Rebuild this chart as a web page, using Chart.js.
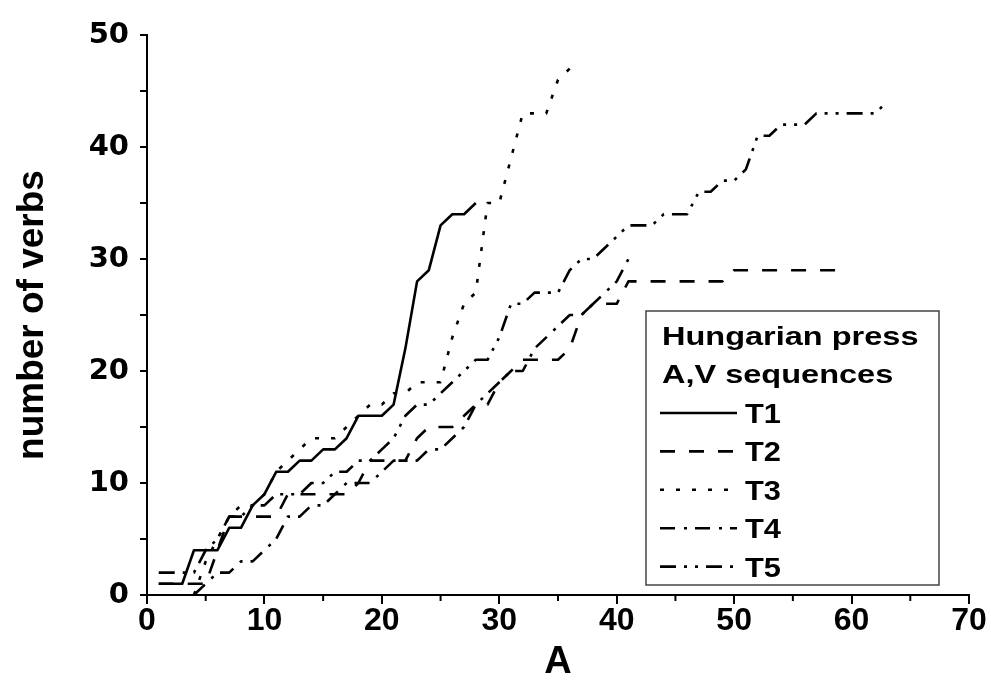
<!DOCTYPE html>
<html>
<head>
<meta charset="utf-8">
<script src="https://cdn.jsdelivr.net/npm/chart.js@4.4.1/dist/chart.umd.min.js"></script>
<style>
  html, body { margin: 0; padding: 0; background: #fff; }
  #wrap { width: 991px; height: 693px; }
</style>
</head>
<body>
<div id="wrap"><canvas id="chart" width="991" height="693"></canvas></div>
<script>
// Cumulative number of verbs (V) against number of adjectives (A)
const seriesNames = ['T1', 'T2', 'T3', 'T4', 'T5'];
const legendTitle = ['Hungarian press', 'A,V sequences'];

const t1A = [1, 2, 3, 4, 5, 6, 7, 8, 9, 10, 11, 12, 13, 14, 15, 16, 17, 18, 19, 20, 21, 22, 23, 24, 25, 26, 27, 28];
const t1V = [1, 1, 1, 4, 4, 4, 6, 6, 8, 9, 11, 11, 12, 12, 13, 13, 14, 16, 16, 16, 17, 22, 28, 29, 33, 34, 34, 35];

const t2A = [1, 2, 3, 4, 5, 6, 7, 8, 9, 10, 11, 12, 13, 14, 15, 16, 17, 18, 19, 20, 21, 22, 23, 24, 25, 26, 27, 28, 29, 30,
             31, 32, 33, 34, 35, 36, 37, 38, 39, 40, 41, 42, 43, 44, 45, 46, 47, 48, 49, 50, 51, 52, 53, 54, 55, 56, 57, 58, 59];
const t2V = [1, 1, 1, 1, 1, 4, 7, 7, 7, 7, 7, 9, 9, 9, 9, 9, 9, 10, 12, 12, 12, 12, 14, 15, 15, 15, 16, 17, 17, 19,
             20, 21, 21, 21, 21, 22, 25, 26, 26, 26, 28, 28, 28, 28, 28, 28, 28, 28, 28, 29, 29, 29, 29, 29, 29, 29, 29, 29, 29];

const t3A = [4, 5, 6, 7, 8, 9, 10, 11, 12, 13, 14, 15, 16, 17, 18, 19, 20, 21, 22, 23, 24, 25, 26, 27, 28, 29, 30, 31, 32, 33, 34, 35, 36];
const t3V = [0, 3, 5, 7, 8, 8, 9, 11, 12, 13, 14, 14, 14, 15, 16, 17, 17, 18, 18, 19, 19, 19, 23, 26, 27, 35, 35, 39, 43, 43, 43, 46, 47];

const t4A = [4, 5, 6, 7, 8, 9, 10, 11, 12, 13, 14, 15, 16, 17, 18, 19, 20, 21, 22, 23, 24, 25, 26, 27, 28, 29, 30, 31, 32, 33,
             34, 35, 36, 37, 38, 39, 40, 41];
const t4V = [0, 1, 2, 2, 3, 3, 4, 5, 7, 7, 8, 8, 9, 10, 10, 10, 11, 12, 12, 12, 13, 13, 14, 15, 17, 18, 19, 20, 20, 22,
             23, 24, 25, 25, 26, 27, 28, 30];

const t5A = [1, 2, 3, 4, 5, 6, 7, 8, 9, 10, 11, 12, 13, 14, 15, 16, 17, 18, 19, 20, 21, 22, 23, 24, 25, 26, 27, 28, 29, 30,
             31, 32, 33, 34, 35, 36, 37, 38, 39, 40, 41, 42, 43, 44, 45, 46, 47, 48, 49, 50, 51, 52, 53, 54, 55, 56, 57, 58, 59, 60,
             61, 62, 63];
const t5V = [2, 2, 2, 2, 4, 5, 7, 7, 8, 8, 9, 9, 9, 10, 10, 11, 11, 12, 12, 13, 14, 16, 17, 17, 18, 19, 20, 21, 21, 23,
             26, 26, 27, 27, 27, 29, 30, 30, 31, 32, 33, 33, 33, 34, 34, 34, 36, 36, 37, 37, 38, 41, 41, 42, 42, 42, 43, 43, 43, 43,
             43, 43, 44];

const xTicks = [0, 10, 20, 30, 40, 50, 60, 70];
const yTicks = [0, 10, 20, 30, 40, 50];

// line styles for T1..T5: solid, dash, dot, dash-dot, dash-dot-dot
const dashes = [[], [15, 14], [4, 12], [15, 9, 3, 8], [16, 8, 3, 8, 3, 8]];

const toPoints = (xs, ys) => xs.map((x, i) => ({ x: x, y: ys[i] }));
const pointSets = [
  toPoints(t1A, t1V), toPoints(t2A, t2V), toPoints(t3A, t3V), toPoints(t4A, t4V), toPoints(t5A, t5V)
];

const datasets = pointSets.map((pts, i) => ({
  label: seriesNames[i],
  data: pts,
  borderColor: '#000',
  borderWidth: 2.6,
  borderDash: dashes[i],
  borderCapStyle: 'butt',
  borderJoinStyle: 'round',
  pointRadius: 0,
  tension: 0,
  fill: false
}));

const FONT = '"Liberation Sans", Arial, sans-serif';
const WIDE_FONT = '"DejaVu Sans", "Liberation Sans", sans-serif';

// draws the short minor ticks on the A axis
const minorTicks = {
  id: 'minorTicks',
  afterDraw(chart) {
    const ctx = chart.ctx;
    const xs = chart.scales.x;
    const y0 = chart.chartArea.bottom;
    ctx.save();
    ctx.strokeStyle = '#000';
    ctx.lineWidth = 2;
    xs.ticks.forEach(t => {
      if (t.value % 10 !== 0) {
        const px = xs.getPixelForValue(t.value);
        ctx.beginPath();
        ctx.moveTo(px, y0);
        ctx.lineTo(px, y0 + 6);
        ctx.stroke();
      }
    });
    ctx.restore();
  }
};

// boxed legend inside the plot
const boxLegend = {
  id: 'boxLegend',
  afterDraw(chart) {
    const ctx = chart.ctx;
    const bx = 646, by = 311, bw = 293, bh = 274;
    ctx.save();
    ctx.fillStyle = '#fff';
    ctx.fillRect(bx, by, bw, bh);
    ctx.strokeStyle = '#444';
    ctx.lineWidth = 1.5;
    ctx.strokeRect(bx, by, bw, bh);

    const drawText = (txt, x, y, size, sx) => {
      ctx.save();
      ctx.translate(x, y);
      ctx.scale(sx, 1);
      ctx.font = 'bold ' + size + 'px ' + FONT;
      ctx.fillStyle = '#000';
      ctx.textBaseline = 'alphabetic';
      ctx.textAlign = 'left';
      ctx.fillText(txt, 0, 0);
      ctx.restore();
    };
    drawText(legendTitle[0], 662, 345, 26, 1.25);
    drawText(legendTitle[1], 662, 383, 26, 1.25);

    chart.data.datasets.forEach((ds, i) => {
      const cy = 413 + i * 38.4;
      ctx.save();
      ctx.strokeStyle = '#000';
      ctx.lineWidth = 2.6;
      ctx.setLineDash(ds.borderDash);
      ctx.beginPath();
      ctx.moveTo(660, cy);
      ctx.lineTo(737, cy);
      ctx.stroke();
      ctx.restore();
      drawText(ds.label, 745, cy + 10, 28, 1.1);
    });
    ctx.restore();
  }
};

new Chart(document.getElementById('chart'), {
  type: 'line',
  data: { datasets: datasets },
  options: {
    responsive: false,
    animation: false,
    devicePixelRatio: 1,
    layout: { padding: { top: 35, right: 22, left: 0, bottom: 0 } },
    plugins: { legend: { display: false }, tooltip: { enabled: false } },
    scales: {
      x: {
        type: 'linear',
        min: xTicks[0],
        max: xTicks[xTicks.length - 1],
        afterFit(scale) { scale.height = 98; },
        ticks: {
          stepSize: 5,
          autoSkip: false,
          maxRotation: 0,
          padding: -2,
          color: '#000',
          font: { family: FONT, size: 32, weight: 'bold' },
          callback: v => (xTicks.includes(v) ? String(v) : '')
        },
        grid: {
          drawOnChartArea: false,
          drawTicks: true,
          tickLength: 9,
          lineWidth: 2,
          color: ctx => (ctx.tick && ctx.tick.value % 10 !== 0 ? 'rgba(0,0,0,0)' : '#000')
        },
        border: { display: true, color: '#000', width: 2 },
        title: {
          display: true,
          text: 'A',
          color: '#000',
          font: { family: FONT, size: 38, weight: 'bold' },
          padding: { top: 0, bottom: 8 }
        }
      },
      y: {
        type: 'linear',
        min: yTicks[0],
        max: yTicks[yTicks.length - 1],
        afterFit(scale) { scale.width = 147; },
        ticks: {
          stepSize: 5,
          autoSkip: false,
          padding: 11,
          color: '#000',
          font: { family: WIDE_FONT, size: 29, weight: 'bold' },
          callback: v => (yTicks.includes(v) ? String(v) : '')
        },
        grid: {
          drawOnChartArea: false,
          drawTicks: true,
          tickLength: 7,
          lineWidth: 2,
          color: '#000'
        },
        border: { display: true, color: '#000', width: 2 },
        title: {
          display: true,
          text: 'number of verbs',
          color: '#000',
          font: { family: FONT, size: 37, weight: 'bold' },
          padding: { top: 11, bottom: 0 }
        }
      }
    }
  },
  plugins: [minorTicks, boxLegend]
});
</script>
</body>
</html>
